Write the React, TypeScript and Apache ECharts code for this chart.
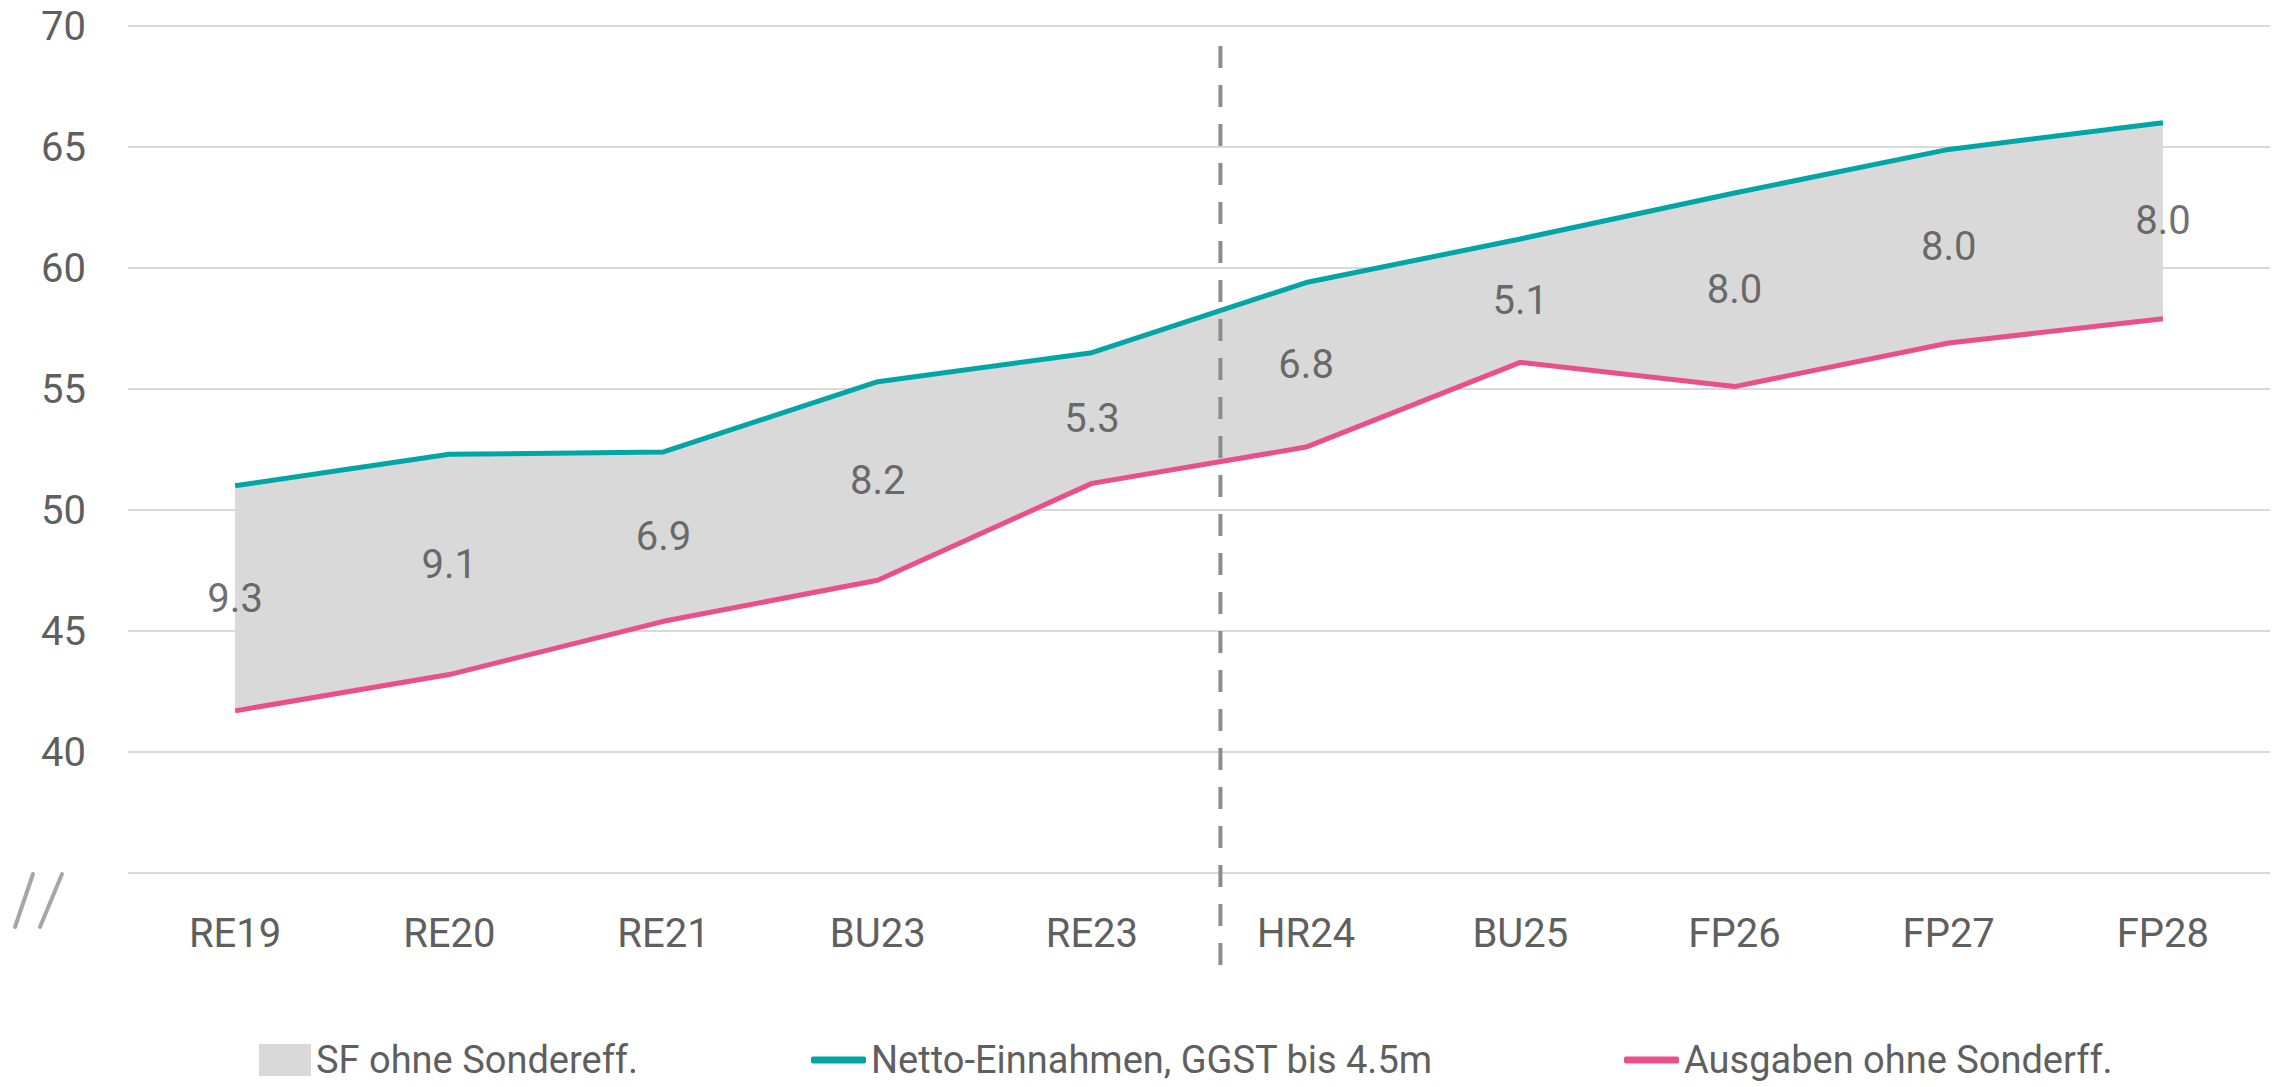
import React, { useEffect, useRef } from "react";
import * as echarts from "echarts";

const categories = ["RE19", "RE20", "RE21", "BU23", "RE23", "HR24", "BU25", "FP26", "FP27", "FP28"];
const netto = [51.0, 52.3, 52.4, 55.3, 56.5, 59.4, 61.2, 63.1, 64.9, 66.0];
const ausgaben = [41.7, 43.2, 45.4, 47.1, 51.1, 52.6, 56.1, 55.1, 56.9, 57.9];
const gapLabels = ["9.3", "9.1", "6.9", "8.2", "5.3", "6.8", "5.1", "8.0", "8.0", "8.0"];
const yTicks = { min: 35, max: 70, interval: 5 };
const seriesNames = ["SF ohne Sondereff.", "Netto-Einnahmen, GGST bis 4.5m", "Ausgaben ohne Sonderff."];
const dividerPosition = 4.6; // between RE23 and HR24

const FONT = "Roboto, 'Noto Sans', sans-serif";
const TEAL = "#00a6a6";
const PINK = "#ea4f89";
const GREY = "#d9d9d9";

export default function App() {
  const ref = useRef<HTMLDivElement>(null);
  useEffect(() => {
    if (!ref.current) return;
    const chart = echarts.init(ref.current, undefined, { renderer: "svg" });
    const diff = netto.map((v, i) => +(v - ausgaben[i]).toFixed(3));
    const mid = netto.map((v, i) => (v + ausgaben[i]) / 2);
    const legendText = { fontFamily: FONT, fontSize: 38, color: "#5f5f5f", lineHeight: 40 };
    const legendTop = 1035;
    chart.setOption({
      animation: false,
      grid: { left: 128, right: 15, top: 26, bottom: 214, containLabel: false },
      legend: [
        {
          data: [{ name: seriesNames[0], icon: "rect" }],
          left: 254,
          top: legendTop,
          itemWidth: 52,
          itemHeight: 32,
          textStyle: legendText,
          selectedMode: false,
        },
        {
          data: [{ name: seriesNames[1], icon: "roundRect" }],
          left: 806,
          top: legendTop,
          itemWidth: 55,
          itemHeight: 7,
          textStyle: legendText,
          selectedMode: false,
        },
        {
          data: [{ name: seriesNames[2], icon: "roundRect" }],
          left: 1619,
          top: legendTop,
          itemWidth: 55,
          itemHeight: 7,
          textStyle: legendText,
          selectedMode: false,
        },
      ],
      xAxis: {
        type: "category",
        data: categories,
        boundaryGap: true,
        axisLine: { show: false },
        axisTick: { show: false },
        axisLabel: { fontFamily: FONT, fontSize: 40, color: "#5f5f5f", margin: 40 },
      },
      yAxis: {
        type: "value",
        min: yTicks.min,
        max: yTicks.max,
        interval: yTicks.interval,
        axisLine: { show: false },
        axisTick: { show: false },
        splitLine: { lineStyle: { color: "#d9d9d9", width: 2 } },
        axisLabel: {
          fontFamily: FONT,
          fontSize: 40,
          color: "#5f5f5f",
          margin: 42,
          formatter: (v: number) => (v === yTicks.min ? "" : String(v)),
        },
      },
      series: [
        {
          name: "__base",
          type: "line",
          stack: "band",
          data: ausgaben,
          symbol: "none",
          lineStyle: { opacity: 0 },
          silent: true,
          z: 1,
        },
        {
          name: seriesNames[0],
          type: "line",
          stack: "band",
          data: diff,
          symbol: "none",
          lineStyle: { opacity: 0, width: 0 },
          itemStyle: { color: GREY },
          areaStyle: { color: GREY, opacity: 1 },
          silent: true,
          z: 1,
        },
        {
          name: seriesNames[1],
          type: "line",
          data: netto,
          symbol: "none",
          itemStyle: { color: TEAL },
          lineStyle: { color: TEAL, width: 5 },
          z: 3,
        },
        {
          name: seriesNames[2],
          type: "line",
          data: ausgaben,
          symbol: "none",
          itemStyle: { color: PINK },
          lineStyle: { color: PINK, width: 5 },
          z: 3,
        },
        {
          name: "__labels",
          type: "scatter",
          data: mid,
          symbolSize: 1,
          itemStyle: { color: "rgba(0,0,0,0)" },
          silent: true,
          z: 4,
          label: {
            show: true,
            position: "inside",
            fontFamily: FONT,
            fontSize: 40,
            color: "#4a4a4a",
            formatter: (p: any) => gapLabels[p.dataIndex],
          },
        },
      ],
    });

    const i0 = Math.floor(dividerPosition);
    const x0 = chart.convertToPixel({ xAxisIndex: 0 }, categories[i0]) as number;
    const x1 = chart.convertToPixel({ xAxisIndex: 0 }, categories[i0 + 1]) as number;
    const xd = x0 + (dividerPosition - i0) * (x1 - x0);
    chart.setOption({
      graphic: [
        {
          type: "line",
          shape: { x1: xd, y1: 46, x2: xd, y2: 980 },
          style: { stroke: "#8c8c8c", lineWidth: 4, lineDash: [22, 17] },
          z: 10,
        },
        {
          type: "line",
          shape: { x1: 15, y1: 927, x2: 33, y2: 874 },
          style: { stroke: "#a6a6a6", lineWidth: 4, lineCap: "round" },
        },
        {
          type: "line",
          shape: { x1: 40, y1: 927, x2: 62, y2: 874 },
          style: { stroke: "#a6a6a6", lineWidth: 4, lineCap: "round" },
        },
      ],
    });
    return () => chart.dispose();
  }, []);
  return (
    <div
      ref={ref}
      style={{ position: "fixed", left: 0, top: 0, width: 2285, height: 1087, background: "#fff" }}
    />
  );
}
